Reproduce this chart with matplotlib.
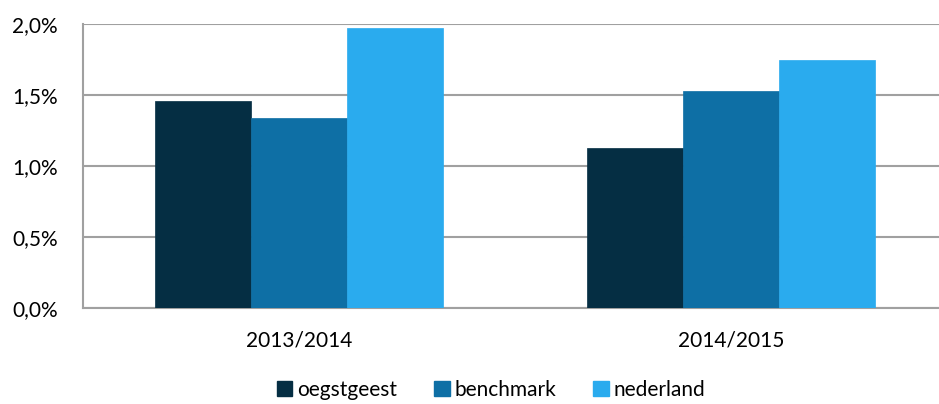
import numpy as np
import matplotlib
matplotlib.use("Agg")
import matplotlib.pyplot as plt
from matplotlib.patches import Patch

plt.rcParams['font.family'] = ['Lato', 'DejaVu Sans']

categories = ['2013/2014', '2014/2015']
series = ['oegstgeest', 'benchmark', 'nederland']
oegstgeest = [1.455, 1.13]
benchmark = [1.34, 1.525]
nederland = [1.975, 1.75]
colors = ['#052e43', '#0e6fa5', '#2aabee']
yticks = [0.0, 0.5, 1.0, 1.5, 2.0]

fig = plt.figure(figsize=(9.39, 4.04), dpi=100)
ax = fig.add_axes([83 / 939, 96 / 404, 1 - 83 / 939, (308 - 24) / 404])

x = np.arange(len(categories))
w = 0.222
for i, vals in enumerate([oegstgeest, benchmark, nederland]):
    ax.bar(x + (i - 1) * w, vals, w, color=colors[i], edgecolor=colors[i],
           linewidth=0.5, zorder=3)

ax.set_xlim(-0.5, 1.481)
ax.set_ylim(0, 2.0)
ax.set_yticks(yticks)
ax.set_yticklabels([f"{v:.1f}%".replace('.', ',') for v in yticks], fontsize=15)
ax.set_xticks(x)
ax.set_xticklabels(categories, fontsize=15)
ax.tick_params(axis='y', length=0, pad=18)
ax.tick_params(axis='x', length=0, pad=16)
ax.yaxis.grid(True, color='#a0a0a0', linewidth=1.5, zorder=0)
for s in ['top', 'right']:
    ax.spines[s].set_visible(False)
ax.spines['left'].set_color('#a0a0a0')
ax.spines['bottom'].set_color('#a0a0a0')
ax.spines['left'].set_linewidth(1.5)
ax.spines['bottom'].set_linewidth(1.5)

handles = [Patch(facecolor=c, edgecolor=c) for c in colors]
fig.legend(handles, series, loc='center', bbox_to_anchor=(0.523, 0.035), ncol=3,
           frameon=False, fontsize=15, handlelength=0.75, handleheight=0.75,
           handletextpad=0.25, columnspacing=1.75)

fig.savefig('out.png', dpi=100)
